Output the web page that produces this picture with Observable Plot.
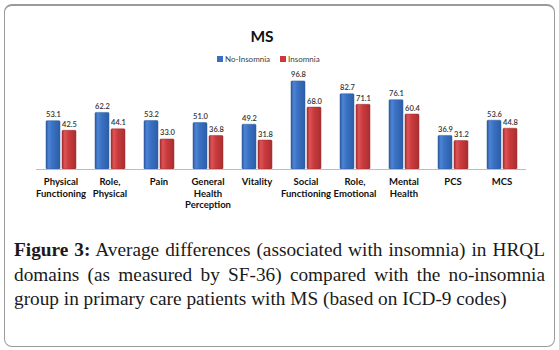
<!DOCTYPE html>
<html>
<head>
<meta charset="utf-8">
<script src="https://cdn.jsdelivr.net/npm/d3@7"></script>
<script src="https://cdn.jsdelivr.net/npm/@observablehq/plot@0.6"></script>
<style>
  html, body { margin: 0; padding: 0; background: #fff; }
  body { width: 559px; height: 350px; position: relative; overflow: hidden; }
  #box { position: absolute; left: 4px; top: 4px; width: 549px; height: 340px; border: 1.5px solid #9a9a9a; border-top-width: 2px; border-radius: 8px; }
  #title { position: absolute; left: 212px; width: 100px; top: 27px; text-align: center; font: bold 15.5px Lato, sans-serif; color: #111; }
  #legend { position: absolute; left: 217px; top: 54px; font: 8px Lato, sans-serif; color: #404040; display: flex; align-items: center; white-space: nowrap; }
  #legend .sw { display: inline-block; width: 6px; height: 6px; margin-right: 2px; }
  #legend .item { display: flex; align-items: center; margin-right: 10px; }
  #chart { position: absolute; left: 0; top: 70px; }
  #caption { position: absolute; left: 14px; top: 238px; width: 531px; font: 19.3px "Liberation Serif", "Times New Roman", serif; line-height: 24.5px; color: #1a1a1a; }
  #caption div { text-align: justify; text-align-last: justify; white-space: nowrap; }
  #caption div.last { text-align-last: left; }
  #caption b { font-weight: 600; }
</style>
</head>
<body>
<div id="box"></div>
<div id="title"></div>
<div id="legend"></div>
<div id="chart"></div>
<div id="caption">
  <div><b>Figure 3:</b> Average differences (associated with insomnia) in HRQL</div>
  <div>domains (as measured by SF-36) compared with the no-insomnia</div>
  <div class="last">group in primary care patients with MS (based on ICD-9 codes)</div>
</div>
<script>
const chartTitle = "MS";
const categories = ["Physical\nFunctioning", "Role,\nPhysical", "Pain", "General\nHealth\nPerception", "Vitality", "Social\nFunctioning", "Role,\nEmotional", "Mental\nHealth", "PCS", "MCS"];
const seriesNames = ["No-Insomnia", "Insomnia"];
const noInsomnia = [53.1, 62.2, 53.2, 51.0, 49.2, 96.8, 82.7, 76.1, 36.9, 53.6];
const insomnia = [42.5, 44.1, 33.0, 36.8, 31.8, 68.0, 71.1, 60.4, 31.2, 44.8];
const seriesColors = ["#3a6fbf", "#c83a3c"];

const data = [];
categories.forEach((c, i) => {
  data.push({category: c, series: seriesNames[0], value: noInsomnia[i]});
  data.push({category: c, series: seriesNames[1], value: insomnia[i]});
});

document.getElementById("title").textContent = chartTitle;
const legend = document.getElementById("legend");
seriesNames.forEach((s, i) => {
  const item = document.createElement("span");
  item.className = "item";
  const sw = document.createElement("span");
  sw.className = "sw";
  sw.style.background = seriesColors[i];
  item.appendChild(sw);
  item.appendChild(document.createTextNode(s));
  legend.appendChild(item);
});

const svg = Plot.plot({
  width: 559,
  height: 150,
  marginLeft: 34,
  marginRight: 31,
  marginTop: 8,
  marginBottom: 51,
  style: {fontFamily: "Lato, sans-serif", background: "transparent"},
  fx: {domain: categories, padding: 0, label: null, axis: null},
  x: {domain: seriesNames, paddingInner: 0.15, paddingOuter: 0.575, axis: null},
  y: {domain: [0, 100], axis: null},
  color: {domain: seriesNames, range: ["url(#gBlue)", "url(#gRed)"]},
  marks: [
    Plot.barY(data, {fx: "category", x: "series", y: "value", fill: "series", stroke: d => d.series === seriesNames[0] ? "#2c5a9e" : "#a02e30", strokeWidth: 0.5, rx: 1}),
    Plot.ruleY([0], {stroke: "#bdbdbd", strokeWidth: 1}),
    Plot.text(data, {fx: "category", x: "series", y: "value", text: d => d.value.toFixed(1), dy: -4, lineAnchor: "bottom", fontSize: 7.5, fill: "#333", fontWeight: 600}),
    Plot.axisFx({domain: categories, anchor: "bottom", tickSize: 0, tickPadding: 8, label: null, fontSize: 9.5, fontWeight: "bold", lineHeight: 1.17, fill: "#111"})
  ]
});

d3.select(svg).insert("defs", ":first-child").html(`
  <linearGradient id="gBlue" x1="0" x2="1" y1="0" y2="0">
    <stop offset="0" stop-color="#2a5aa2"/>
    <stop offset="0.2" stop-color="#4d84d4"/>
    <stop offset="0.45" stop-color="#3b72c4"/>
    <stop offset="1" stop-color="#2c5ea8"/>
  </linearGradient>
  <linearGradient id="gRed" x1="0" x2="1" y1="0" y2="0">
    <stop offset="0" stop-color="#a52b2d"/>
    <stop offset="0.2" stop-color="#dc5556"/>
    <stop offset="0.45" stop-color="#cc3c3e"/>
    <stop offset="1" stop-color="#a82e30"/>
  </linearGradient>`);

document.getElementById("chart").appendChild(svg);
</script>
</body>
</html>
